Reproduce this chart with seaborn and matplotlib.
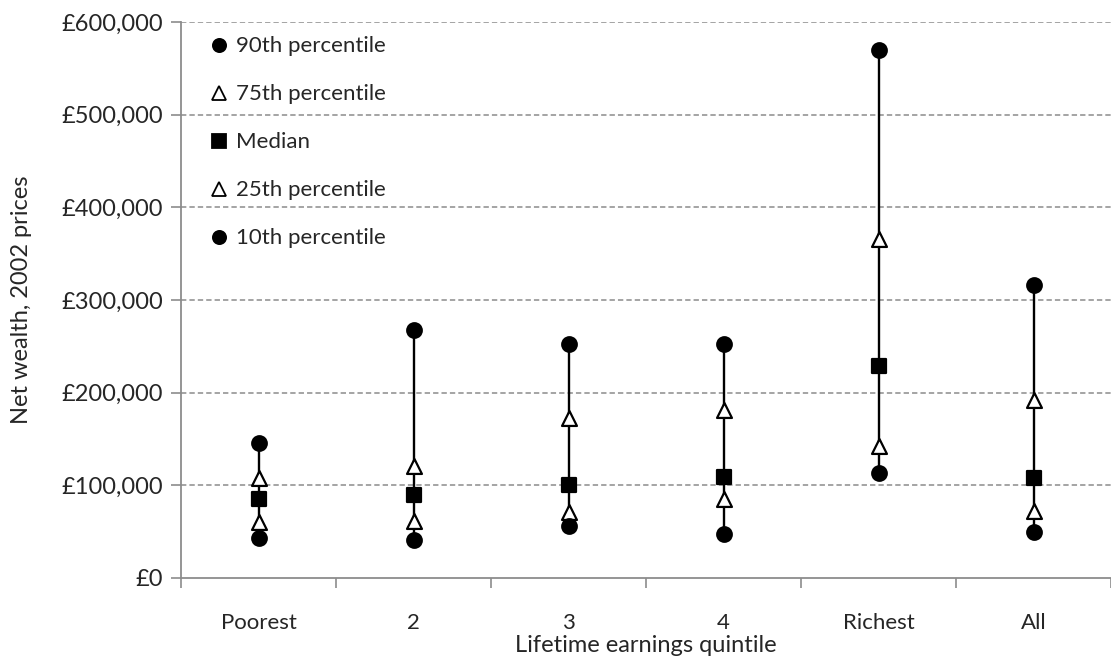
import matplotlib
matplotlib.use("Agg")
import matplotlib.pyplot as plt
from matplotlib.lines import Line2D
from matplotlib.ticker import FuncFormatter, FixedLocator
import seaborn as sns
import pandas as pd
import numpy as np

categories = ["Poorest", "2", "3", "4", "Richest", "All"]
p90 = [146000, 268000, 252000, 253000, 570000, 316000]
p75 = [108000, 121000, 173000, 181000, 366000, 192000]
median = [85000, 90000, 100000, 109000, 229000, 108000]
p25 = [60000, 61000, 71000, 85000, 142000, 72000]
p10 = [43000, 41000, 56000, 48000, 113000, 50000]
series_names = ["90th percentile", "75th percentile", "Median", "25th percentile", "10th percentile"]
y_ticks = [0, 100000, 200000, 300000, 400000, 500000, 600000]

sns.set_theme(style="white")
plt.rcParams["font.family"] = ["Lato", "DejaVu Sans"]

rows = []
for name, vals in zip(series_names, [p90, p75, median, p25, p10]):
    for c, v in zip(categories, vals):
        rows.append({"Quintile": c, "Value": v, "Series": name})
df = pd.DataFrame(rows)

fig = plt.figure(figsize=(11.11, 6.6), dpi=100)
ax = fig.add_axes([181/1111, 1 - 578/660, 930/1111, (578 - 22)/660])

# range lines
xpos = np.arange(len(categories))
ax.vlines(xpos, p10, p90, color="black", linewidth=1.7, zorder=2)

markers = {"90th percentile": "o", "75th percentile": "^", "Median": "s",
           "25th percentile": "^", "10th percentile": "o"}
facecols = {"90th percentile": "black", "75th percentile": "white", "Median": "black",
            "25th percentile": "white", "10th percentile": "black"}
sizes = {"90th percentile": 110, "75th percentile": 115, "Median": 100,
         "25th percentile": 115, "10th percentile": 110}
for name in series_names:
    sub = df[df["Series"] == name]
    sns.scatterplot(data=sub, x="Quintile", y="Value", marker=markers[name],
                    s=sizes[name], color=facecols[name], edgecolor="black",
                    linewidth=1.6, ax=ax, zorder=3, legend=False)

ax.set_xlim(-0.5, 5.46)
ax.set_ylim(0, 600000)
ax.yaxis.set_major_locator(FixedLocator(y_ticks))
ax.yaxis.set_major_formatter(FuncFormatter(lambda v, p: "£{:,.0f}".format(v)))
ax.set_xticks(xpos)
ax.set_xticklabels(categories)
ax.set_xticks(np.arange(-0.5, 6.0, 1.0), minor=True)

for v in y_ticks[1:]:
    ax.axhline(v, color="#8c8c8c", linestyle=(0, (3.5, 2)), linewidth=1.1, zorder=1)

for s in ["top", "right"]:
    ax.spines[s].set_visible(False)
for s in ["left", "bottom"]:
    ax.spines[s].set_color("#8c8c8c")
    ax.spines[s].set_linewidth(1.3)

ax.tick_params(axis="y", which="major", direction="out", length=7, width=1.2,
               color="#8c8c8c", labelsize=17, pad=6, left=True)
ax.tick_params(axis="x", which="major", length=0, labelsize=16, pad=25)
ax.tick_params(axis="x", which="minor", direction="out", length=7, width=1.2,
               color="#8c8c8c", bottom=True)

ax.set_xlabel("Lifetime earnings quintile", fontsize=17, labelpad=2)
ax.set_ylabel("Net wealth, 2002 prices", fontsize=17)
ax.yaxis.set_label_coords(-0.16, 0.5)

handles = [Line2D([0], [0], marker=markers[n], linestyle="none", markersize=9.5,
                  markerfacecolor=facecols[n], markeredgecolor="black", markeredgewidth=1.3)
           for n in series_names]
leg = ax.legend(handles, series_names, loc="upper left", frameon=False, fontsize=16,
                labelspacing=1.26, handletextpad=0.1, handlelength=1.3,
                bbox_to_anchor=(0.01, 1.0), borderaxespad=0.25)

fig.savefig("out.png", dpi=100)
